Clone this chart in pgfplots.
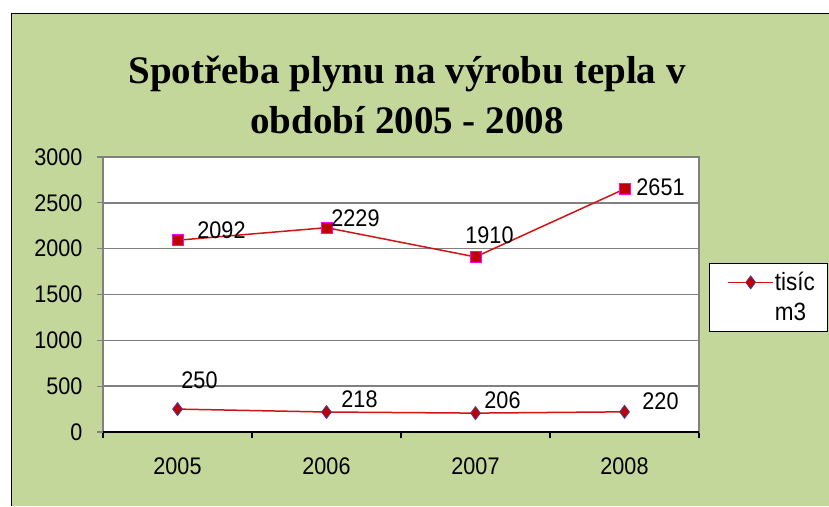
\documentclass[border=0pt]{standalone}
\usepackage{fontspec}
\setmainfont{Liberation Sans}[FakeStretch=0.9]
\newfontfamily\titlefont{Liberation Serif}
\usepackage{pgfplots}
\usepackage{pgfplotstable}
\pgfplotsset{compat=1.18}
\definecolor{bg}{RGB}{196,215,155}
\definecolor{lineRed}{RGB}{210,20,20}
\definecolor{markRed}{RGB}{192,0,0}
\definecolor{markBlue}{RGB}{70,60,160}
\definecolor{markMag}{RGB}{255,0,255}
\definecolor{gridGray}{RGB}{128,128,128}

\pgfplotstableread{
x y dx dy
0 2092 44 10
1 2229 29 9
2 1910 14 22
3 2651 36 2
}\tabUp
\pgfplotstableread{
x y dx dy
0 250 22 29
1 218 33 13
2 206 27 13
3 220 36 11
}\tabLow

\begin{document}
\begin{tikzpicture}
\useasboundingbox (0,0) rectangle (829pt,506pt);
\fill[bg] (11pt,0) rectangle (829pt,492pt);
\draw[black, line width=1pt] (11pt,0) -- (11pt,492pt) -- (829pt,492pt);
\node[font=\titlefont\bfseries\fontsize{39}{50}\selectfont, align=center] at (407pt,411pt) {Spotřeba plynu na výrobu tepla v\\období 2005 - 2008};
\begin{axis}[
  at={(103pt,74pt)}, anchor=south west, scale only axis,
  width=596pt, height=275pt,
  xmin=-0.5, xmax=3.5, ymin=0, ymax=3000,
  ytick={0,500,...,3000},
  xtick={-0.5,0.5,1.5,2.5,3.5}, xticklabels={,,,,,},
  extra x ticks={0,1,2,3}, extra x tick labels={2005,2006,2007,2008},
  extra x tick style={major tick length=0pt, xticklabel style={yshift=-22pt}},
  tick align=outside, major tick length=6pt,
  xtick pos=bottom, ytick pos=left,
  tick style={line width=1.2pt, color=gridGray},
  xtick style={color=black, line width=1.2pt},
  ymajorgrids, grid style={line width=1.5pt, color=gridGray},
  axis line style={line width=1.5pt, color=gridGray},
  axis background/.style={fill=white},
  ticklabel style={font=\fontsize{24}{28}\selectfont},
  yticklabel style={xshift=-11pt},
  /pgf/number format/assume math mode=true,
  /pgf/number format/1000 sep={},
  scaled y ticks=false,
  legend style={at={(1.0168,0.6145)}, anchor=north west, draw=black, line width=0.8pt, fill=white,
    font=\fontsize{25}{29}\selectfont, inner xsep=11pt, inner ysep=7pt, row sep=7pt,
    nodes={inner xsep=1pt}},
  legend cell align=left,
  legend image code/.code={\path (0pt,0pt); \draw[mark repeat=2,mark phase=2,#1] plot coordinates {(7pt,0pt) (29.5pt,0pt) (52pt,0pt)};},
  nodes near coords,
  point meta=explicit,
  visualization depends on={\thisrow{dx}\as\mydx},
  visualization depends on={\thisrow{dy}\as\mydy},
  every node near coord/.append style={anchor=center, xshift=\mydx pt, yshift=\mydy pt,
     font=\fontsize{24}{28}\selectfont, text=black},
]
\addplot[color=lineRed, line width=1.5pt, mark=diamond*, mark size=6.5pt,
  mark options={fill=markRed, draw=markBlue, line width=0.8pt}]
  table[x=x, y=y, meta=y] {\tabLow};
\addlegendentry{tisíc}
\addlegendimage{empty legend}
\addlegendentry{m3}
\addplot[color=lineRed, line width=1.5pt, mark=square*, mark size=5.5pt,
  mark options={fill=markRed, draw=markMag, line width=0.8pt}, forget plot]
  table[x=x, y=y, meta=y] {\tabUp};
\draw[black, line width=1.5pt] (rel axis cs:0,0) -- (rel axis cs:1,0);
\end{axis}
\end{tikzpicture}
\end{document}
